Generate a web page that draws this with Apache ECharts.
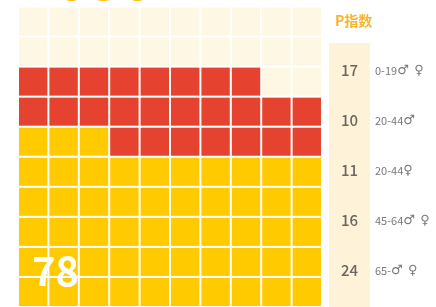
<!DOCTYPE html>
<html>
<head>
<meta charset="utf-8">
<script src="https://cdn.jsdelivr.net/npm/echarts@6/dist/echarts.min.js"></script>
<style>
  html, body { margin: 0; padding: 0; background: #fff; }
  #main { width: 436px; height: 307px; }
</style>
</head>
<body>
<div id="main"></div>
<script>
// waffle cells, filled from bottom-left, left to right, upward
const cellGroups = ["yellow", "red", "empty"];
const cellCounts = [53, 25, 22];
const cellColors = ["#FFCB00", "#E5432F", "#FEF7E3"];
const totalLabel = "78";
const yearLabel = "2050";

// side table
const headerLabel = "P指数";
const pIndex = [17, 10, 11, 16, 24];
const ageRanges = ["0-19", "20-44", "20-44", "45-64", "65-"];
const ageSexes = ["♂♀", "♂", "♀", "♂♀", "♂♀"];

const cells = [];
let k = 0;
cellCounts.forEach((n, g) => {
  for (let i = 0; i < n; i++, k++) {
    cells.push([k % 10, Math.floor(k / 10), g]);
  }
});

const font = "Noto Sans CJK SC";
const chart = echarts.init(document.getElementById("main"));

chart.setOption({
  animation: false,
  textStyle: { fontFamily: font },
  title: [
    {
      text: yearLabel,
      left: 17,
      top: -54,
      textStyle: { color: "#FDB913", fontSize: 56, fontWeight: "bold", fontFamily: font }
    },
    {
      text: headerLabel,
      left: 330,
      top: 9,
      textStyle: { color: "#F9B42A", fontSize: 14, fontWeight: "bold", fontFamily: font }
    },
    {
      text: totalLabel,
      left: 27,
      top: 246,
      textStyle: { color: "#fff", fontSize: 40, fontWeight: "bold", fontFamily: font }
    }
  ],
  grid: [
    { left: 18, top: 6.5, width: 304, height: 305 },
    { left: 329, top: 43, width: 41, height: 264, show: true, backgroundColor: "#FEF3D9", borderWidth: 0 }
  ],
  xAxis: [
    { gridIndex: 0, type: "value", min: 0, max: 10, show: false },
    { gridIndex: 1, type: "value", min: 0, max: 1, show: false }
  ],
  yAxis: [
    { gridIndex: 0, type: "value", min: 0, max: 10, show: false },
    { gridIndex: 1, type: "value", min: -0.55, max: 4.73, inverse: true, show: false }
  ],
  series: [
    {
      type: "custom",
      xAxisIndex: 0,
      yAxisIndex: 0,
      data: cells,
      renderItem: function (params, api) {
        const p = api.coord([api.value(0), api.value(1) + 1]);
        const s = api.size([1, 1]);
        return {
          type: "rect",
          shape: { x: p[0] + 1, y: p[1] + 1, width: s[0] - 2, height: s[1] - 2 },
          style: { fill: cellColors[api.value(2)] }
        };
      }
    },
    {
      type: "scatter",
      xAxisIndex: 1,
      yAxisIndex: 1,
      symbolSize: 0,
      data: pIndex.map((v, i) => [0.5, i, v]),
      label: {
        show: true,
        position: "inside",
        formatter: (p) => p.value[2],
        color: "#444",
        fontSize: 15,
        fontWeight: 500,
        fontFamily: font
      }
    },
    {
      type: "scatter",
      xAxisIndex: 1,
      yAxisIndex: 1,
      symbolSize: 0,
      data: ageRanges.map((a, i) => [1, i, a, ageSexes[i]]),
      label: {
        show: true,
        position: "right",
        distance: 5,
        formatter: (p) => "{a|" + p.value[2] + "}" +
          p.value[3].split("").map((c) => "{s|" + c + "}").join(""),
        rich: {
          a: { color: "#555", fontSize: 11, fontFamily: font },
          s: { color: "#555", fontSize: 13, width: 17, align: "left", fontFamily: "DejaVu Sans" }
        }
      }
    }
  ]
});
</script>
</body>
</html>
